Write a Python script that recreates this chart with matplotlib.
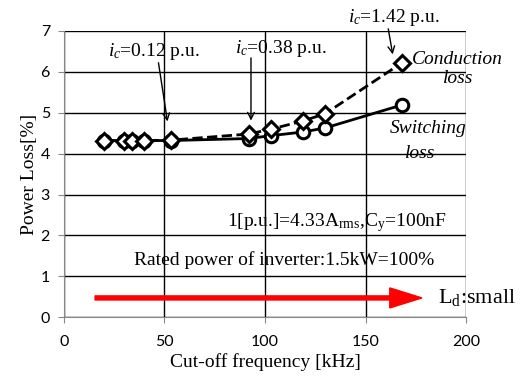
import matplotlib.pyplot as plt
from matplotlib.patches import FancyArrow

# cut-off frequency [kHz] and losses [%]
freq = [20, 30, 34, 40, 53, 92, 103, 119, 130, 168]
conduction = [4.32, 4.32, 4.32, 4.32, 4.33, 4.48, 4.60, 4.80, 4.98, 6.22]
switching = [4.32, 4.32, 4.32, 4.32, 4.32, 4.37, 4.44, 4.53, 4.63, 5.19]

xticks = [0, 50, 100, 150, 200]
yticks = [0, 1, 2, 3, 4, 5, 6, 7]

serif = 'Liberation Serif'
plt.rcParams['font.family'] = ['Lato', 'DejaVu Sans']
plt.rcParams['mathtext.fontset'] = 'custom'
plt.rcParams['mathtext.rm'] = serif
plt.rcParams['mathtext.it'] = serif + ':italic'

fig = plt.figure(figsize=(5.28, 3.78), dpi=100)
ax = fig.add_axes([0.121, 0.161, 0.762, 0.757])

ax.set_xlim(0, 200)
ax.set_ylim(0, 7)
ax.set_xticks(xticks)
ax.set_yticks(yticks)
ax.grid(True, color='black', linewidth=1.0)
ax.set_axisbelow(True)
for s in ['top', 'right']:
    ax.spines[s].set_visible(False)
for s in ['left', 'bottom']:
    ax.spines[s].set_color('#888888')
ax.tick_params(direction='out', length=4, color='#888888', labelsize=11.5)
ax.tick_params(axis='x', pad=9)
ax.tick_params(axis='y', pad=6)

ax.plot(freq, switching, '-', color='black', lw=2, marker='o', ms=9,
        mfc='white', mec='black', mew=2.2, zorder=3)
ax.plot(freq, conduction, '--', color='black', lw=2, marker='D', ms=8,
        mfc='white', mec='black', mew=2.2, zorder=4)

ax.set_xlabel('Cut-off frequency [kHz]', family=serif, fontsize=14, labelpad=3)
ax.set_ylabel('Power Loss[%]', family=serif, fontsize=14, labelpad=2)

fs = 14
arrow_kw = dict(arrowstyle='->', color='black', lw=1, mutation_scale=12)
ax.text(22, 6.49, r'$i_c$=0.12 p.u.', family=serif, fontsize=fs,
        ha='left', va='center')
ax.annotate('', xy=(51.7, 4.72), xytext=(46.8, 6.29), arrowprops=arrow_kw)
ax.text(85, 6.58, r'$i_c$=0.38 p.u.', family=serif, fontsize=fs,
        ha='left', va='center')
ax.annotate('', xy=(93, 4.74), xytext=(93, 6.41), arrowprops=arrow_kw)
ax.text(141, 7.34, r'$i_c$=1.42 p.u.', family=serif, fontsize=fs,
        ha='left', va='center', clip_on=False)
ax.annotate('', xy=(163.7, 6.36), xytext=(161, 7.12), arrowprops=arrow_kw,
            annotation_clip=False)

ax.text(173, 6.31, 'Conduction', family=serif, style='italic', fontsize=fs,
        ha='left', va='center', clip_on=False)
ax.text(196, 5.85, 'loss', family=serif, style='italic', fontsize=fs,
        ha='center', va='center', clip_on=False)
ax.text(181, 4.62, 'Switching', family=serif, style='italic', fontsize=fs,
        ha='center', va='center', clip_on=False)
ax.text(177, 4.01, 'loss', family=serif, style='italic', fontsize=fs,
        ha='center', va='center')

ax.text(190.5, 2.31, r'1[p.u.]=4.33A$_{\mathrm{rms}}$,C$_\mathrm{y}$=100nF',
        family=serif, fontsize=fs, ha='right', va='center')
ax.text(184, 1.39, 'Rated power of inverter:1.5kW=100%', family=serif,
        fontsize=fs, ha='right', va='center')

ax.add_patch(FancyArrow(15.5, 0.47, 146.5, 0, width=0.1, head_width=0.49,
                        head_length=16, color='red', zorder=5,
                        length_includes_head=False))
ax.text(186, 0.47, r'L$_\mathrm{d}$:small', family=serif, fontsize=16,
        ha='left', va='center', clip_on=False)

fig.savefig('out.png', dpi=100)
